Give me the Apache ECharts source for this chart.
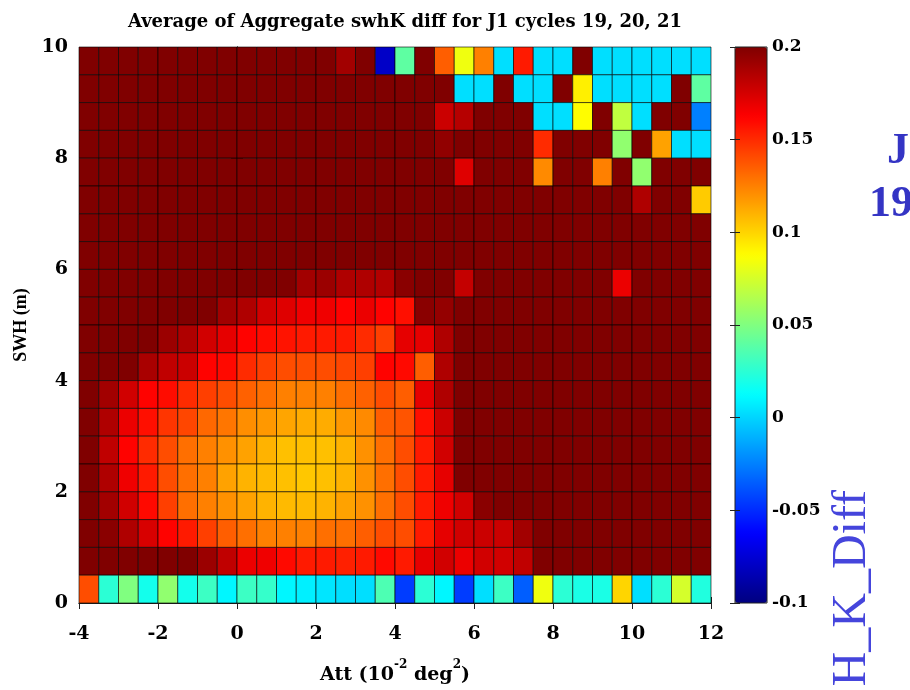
<!DOCTYPE html>
<html>
<head>
<meta charset="utf-8">
<title>Average of Aggregate swhK diff</title>
<script src="https://cdn.jsdelivr.net/npm/echarts@6/dist/echarts.min.js"></script>
<style>
  html, body { margin: 0; padding: 0; background: #fff; }
  #chart { width: 910px; height: 690px; }
</style>
</head>
<body>
<div id="chart"></div>
<script>
  // left edge of each Att bin (10^-2 deg^2), bin width 0.5
  const attBins = [-4, -3.5, -3, -2.5, -2, -1.5, -1, -0.5, 0, 0.5, 1, 1.5, 2, 2.5, 3, 3.5,
    4, 4.5, 5, 5.5, 6, 6.5, 7, 7.5, 8, 8.5, 9, 9.5, 10, 10.5, 11, 11.5];
  // lower edge of each SWH bin (m), bin height 0.5 ; listed top row first
  const swhBins = [9.5, 9, 8.5, 8, 7.5, 7, 6.5, 6, 5.5, 5, 4.5, 4, 3.5, 3, 2.5, 2, 1.5, 1, 0.5, 0];
  const binW = 0.5;
  const binH = 0.5;

  // mean swhK diff per cell, rows match swhBins (top -> bottom), 0.2 = saturated
  const swhKDiff = [
    [0.2, 0.2, 0.2, 0.2, 0.2, 0.2, 0.2, 0.2, 0.2, 0.2, 0.2, 0.2, 0.2, 0.19, 0.2, -0.079, 0.04, 0.2, 0.135, 0.083, 0.125, 0.003, 0.155, 0.003, 0.003, 0.2, 0.003, 0.003, 0.003, 0.003, 0.003, 0.003],
    [0.2, 0.2, 0.2, 0.2, 0.2, 0.2, 0.2, 0.2, 0.2, 0.2, 0.2, 0.2, 0.2, 0.2, 0.2, 0.2, 0.2, 0.2, 0.2, 0.003, 0.003, 0.2, 0.003, 0.003, 0.2, 0.092, 0.003, 0.003, 0.003, 0.003, 0.2, 0.04],
    [0.2, 0.2, 0.2, 0.2, 0.2, 0.2, 0.2, 0.2, 0.2, 0.2, 0.2, 0.2, 0.2, 0.2, 0.2, 0.2, 0.2, 0.2, 0.178, 0.184, 0.2, 0.2, 0.2, 0.003, 0.003, 0.088, 0.2, 0.069, 0.003, 0.2, 0.2, -0.025],
    [0.2, 0.2, 0.2, 0.2, 0.2, 0.2, 0.2, 0.2, 0.2, 0.2, 0.2, 0.2, 0.2, 0.2, 0.2, 0.2, 0.2, 0.2, 0.195, 0.2, 0.2, 0.2, 0.2, 0.15, 0.2, 0.2, 0.2, 0.055, 0.2, 0.115, 0.003, 0.003],
    [0.2, 0.2, 0.2, 0.2, 0.2, 0.2, 0.2, 0.2, 0.2, 0.2, 0.2, 0.2, 0.2, 0.2, 0.2, 0.2, 0.2, 0.2, 0.2, 0.172, 0.2, 0.2, 0.2, 0.122, 0.2, 0.2, 0.125, 0.2, 0.055, 0.2, 0.2, 0.2],
    [0.2, 0.2, 0.2, 0.2, 0.2, 0.2, 0.2, 0.2, 0.2, 0.2, 0.2, 0.2, 0.2, 0.2, 0.2, 0.2, 0.2, 0.2, 0.2, 0.2, 0.2, 0.2, 0.2, 0.2, 0.2, 0.2, 0.2, 0.2, 0.186, 0.2, 0.2, 0.103],
    [0.2, 0.2, 0.2, 0.2, 0.2, 0.2, 0.2, 0.2, 0.2, 0.2, 0.2, 0.2, 0.2, 0.2, 0.2, 0.2, 0.2, 0.2, 0.2, 0.2, 0.2, 0.2, 0.2, 0.2, 0.2, 0.2, 0.2, 0.2, 0.2, 0.2, 0.2, 0.2],
    [0.2, 0.2, 0.2, 0.2, 0.2, 0.2, 0.2, 0.2, 0.2, 0.2, 0.2, 0.2, 0.2, 0.2, 0.2, 0.2, 0.2, 0.2, 0.2, 0.2, 0.2, 0.2, 0.2, 0.2, 0.2, 0.2, 0.2, 0.2, 0.2, 0.2, 0.2, 0.2],
    [0.2, 0.2, 0.2, 0.2, 0.2, 0.2, 0.2, 0.2, 0.2, 0.2, 0.2, 0.19, 0.192, 0.186, 0.186, 0.185, 0.197, 0.2, 0.2, 0.18, 0.2, 0.2, 0.2, 0.2, 0.2, 0.2, 0.2, 0.168, 0.2, 0.2, 0.2, 0.2],
    [0.2, 0.2, 0.2, 0.2, 0.2, 0.2, 0.2, 0.19, 0.186, 0.176, 0.172, 0.167, 0.167, 0.162, 0.168, 0.162, 0.158, 0.197, 0.194, 0.2, 0.2, 0.2, 0.2, 0.2, 0.2, 0.2, 0.2, 0.2, 0.2, 0.2, 0.2, 0.2],
    [0.2, 0.2, 0.2, 0.2, 0.192, 0.186, 0.176, 0.17, 0.162, 0.159, 0.157, 0.155, 0.155, 0.155, 0.15, 0.144, 0.17, 0.17, 0.186, 0.2, 0.2, 0.2, 0.2, 0.2, 0.2, 0.2, 0.2, 0.2, 0.2, 0.2, 0.2, 0.2],
    [0.2, 0.2, 0.2, 0.188, 0.181, 0.178, 0.162, 0.16, 0.15, 0.144, 0.14, 0.14, 0.14, 0.142, 0.144, 0.162, 0.16, 0.135, 0.186, 0.2, 0.2, 0.2, 0.2, 0.2, 0.2, 0.2, 0.2, 0.2, 0.2, 0.2, 0.2, 0.2],
    [0.2, 0.19, 0.176, 0.162, 0.159, 0.15, 0.144, 0.14, 0.134, 0.13, 0.125, 0.125, 0.125, 0.13, 0.134, 0.14, 0.135, 0.17, 0.186, 0.2, 0.2, 0.2, 0.2, 0.2, 0.2, 0.2, 0.2, 0.2, 0.2, 0.2, 0.2, 0.2],
    [0.2, 0.186, 0.168, 0.158, 0.147, 0.142, 0.132, 0.128, 0.121, 0.118, 0.114, 0.112, 0.112, 0.118, 0.122, 0.135, 0.138, 0.158, 0.178, 0.2, 0.2, 0.2, 0.2, 0.2, 0.2, 0.2, 0.2, 0.2, 0.2, 0.2, 0.2, 0.2],
    [0.2, 0.181, 0.162, 0.15, 0.14, 0.13, 0.125, 0.12, 0.115, 0.11, 0.106, 0.106, 0.106, 0.11, 0.12, 0.13, 0.14, 0.155, 0.176, 0.2, 0.2, 0.2, 0.2, 0.2, 0.2, 0.2, 0.2, 0.2, 0.2, 0.2, 0.2, 0.2],
    [0.2, 0.186, 0.167, 0.155, 0.14, 0.13, 0.125, 0.115, 0.11, 0.108, 0.106, 0.104, 0.106, 0.11, 0.12, 0.13, 0.14, 0.155, 0.17, 0.2, 0.2, 0.2, 0.2, 0.2, 0.2, 0.2, 0.2, 0.2, 0.2, 0.2, 0.2, 0.2],
    [0.2, 0.19, 0.176, 0.16, 0.144, 0.13, 0.125, 0.12, 0.115, 0.11, 0.108, 0.108, 0.11, 0.115, 0.12, 0.13, 0.14, 0.155, 0.167, 0.176, 0.197, 0.2, 0.2, 0.2, 0.2, 0.2, 0.2, 0.2, 0.2, 0.2, 0.2, 0.2],
    [0.2, 0.197, 0.186, 0.174, 0.162, 0.155, 0.144, 0.135, 0.13, 0.125, 0.125, 0.125, 0.13, 0.13, 0.135, 0.14, 0.14, 0.155, 0.17, 0.176, 0.178, 0.178, 0.19, 0.2, 0.2, 0.2, 0.2, 0.2, 0.2, 0.2, 0.2, 0.2],
    [0.2, 0.2, 0.2, 0.2, 0.2, 0.2, 0.192, 0.181, 0.168, 0.167, 0.16, 0.155, 0.155, 0.153, 0.155, 0.16, 0.155, 0.17, 0.176, 0.168, 0.176, 0.176, 0.181, 0.2, 0.2, 0.2, 0.2, 0.2, 0.2, 0.2, 0.2, 0.2],
    [0.14, 0.025, 0.05, 0.018, 0.055, 0.018, 0.03, 0.01, 0.03, 0.028, 0.01, 0.008, 0.005, 0.003, 0.003, 0.035, -0.045, 0.025, 0.01, -0.045, 0.003, 0.03, -0.035, 0.083, 0.025, 0.02, 0.02, 0.1, 0.003, 0.025, 0.075, 0.022]
  ];

  const xTicks = [-4, -2, 0, 2, 4, 6, 8, 10, 12];
  const yTicks = [0, 2, 4, 6, 8, 10];
  const cbarTicks = [-0.1, -0.05, 0, 0.05, 0.1, 0.15, 0.2];

  // matlab jet, 9 evenly spaced stops
  const jet = ['#000080', '#0000ff', '#0080ff', '#00ffff', '#80ff80', '#ffff00', '#ff8000', '#ff0000', '#800000'];

  const cells = [];
  swhBins.forEach((y, r) => {
    attBins.forEach((x, c) => {
      cells.push([x, y, swhKDiff[r][c]]);
    });
  });

  const serif = '"Liberation Serif", "Times New Roman", serif';
  const wideSerif = '"DejaVu Serif", serif'; // the slide is stretched sideways, wider face fits better
  const tickFont = { fontFamily: wideSerif, fontWeight: 'bold', fontSize: 19, color: '#000' };
  const frameLine = { lineStyle: { color: '#222', width: 1 } };
  const inTick = { inside: true, length: 6, lineStyle: { color: '#222', width: 1 } };

  const chart = echarts.init(document.getElementById('chart'));

  const option = {
    backgroundColor: '#fff',
    animation: false,
    title: {
      text: 'Average of Aggregate swhK diff for J1 cycles 19, 20, 21',
      left: 400,
      top: 8,
      textAlign: 'center',
      textStyle: { fontFamily: wideSerif, fontWeight: 'bold', fontSize: 18, color: '#000' }
    },
    grid: [
      { left: 79, top: 47, width: 632, height: 556 },
      { left: 735, top: 47, width: 32, height: 556, show: true, z: 6,
        backgroundColor: 'transparent', borderColor: '#222', borderWidth: 1 }
    ],
    xAxis: [
      {
        gridIndex: 0, type: 'value', position: 'bottom',
        min: xTicks[0], max: xTicks[xTicks.length - 1], interval: 2,
        axisLine: frameLine, axisTick: inTick, splitLine: { show: false },
        axisLabel: Object.assign({ margin: 22 }, tickFont),
        name: '{b|Att (10}{s|-2}{b| deg}{s|2}{b|)}',
        nameLocation: 'middle', nameGap: 56,
        nameTextStyle: {
          rich: {
            b: { fontFamily: wideSerif, fontWeight: 'bold', fontSize: 19, color: '#000', lineHeight: 26, verticalAlign: 'bottom' },
            s: { fontFamily: wideSerif, fontWeight: 'bold', fontSize: 12, color: '#000', lineHeight: 26, verticalAlign: 'top' }
          }
        }
      },
      {
        gridIndex: 0, type: 'value', position: 'top',
        min: xTicks[0], max: xTicks[xTicks.length - 1], interval: 2,
        axisLine: frameLine, axisTick: inTick, splitLine: { show: false },
        axisLabel: { show: false }
      },
      { gridIndex: 1, type: 'value', min: 0, max: 1, show: false }
    ],
    yAxis: [
      {
        gridIndex: 0, type: 'value', position: 'left',
        min: yTicks[0], max: yTicks[yTicks.length - 1], interval: 2,
        axisLine: frameLine, axisTick: inTick, splitLine: { show: false },
        axisLabel: Object.assign({ margin: 11 }, tickFont),
        name: 'SWH (m)', nameLocation: 'middle', nameGap: 48, nameRotate: 90,
        nameTextStyle: { fontFamily: serif, fontWeight: 'bold', fontSize: 18, color: '#000' }
      },
      {
        gridIndex: 0, type: 'value', position: 'right',
        min: yTicks[0], max: yTicks[yTicks.length - 1], interval: 2,
        axisLine: frameLine, axisTick: inTick, splitLine: { show: false },
        axisLabel: { show: false }
      },
      {
        gridIndex: 1, type: 'value', position: 'right', z: 7,
        min: cbarTicks[0], max: cbarTicks[cbarTicks.length - 1], interval: 0.05,
        axisLine: { show: false }, axisTick: { inside: true, length: 5, lineStyle: { color: '#222' } },
        splitLine: { show: false },
        axisLabel: Object.assign({}, tickFont, { fontSize: 17, margin: 5, formatter: v => String(+v.toFixed(2)) })
      },
      {
        gridIndex: 1, type: 'value', position: 'left', z: 7,
        min: cbarTicks[0], max: cbarTicks[cbarTicks.length - 1], interval: 0.05,
        axisLine: { show: false }, axisTick: { inside: true, length: 5, lineStyle: { color: '#222' } },
        splitLine: { show: false }, axisLabel: { show: false }
      }
    ],
    visualMap: {
      type: 'continuous',
      min: cbarTicks[0],
      max: cbarTicks[cbarTicks.length - 1],
      dimension: 2,
      seriesIndex: 0,
      calculable: false,
      hoverLink: false,
      orient: 'vertical',
      left: 735,
      top: 47,
      itemWidth: 32,
      itemHeight: 556,
      padding: 0,
      inRange: { color: jet }
    },
    graphic: [
      { type: 'text', x: 887, y: 152, style: { text: 'J', font: 'bold 44px "Liberation Serif"', fill: '#3434c4', align: 'left', verticalAlign: 'middle' } },
      { type: 'text', x: 869, y: 205, style: { text: '19', font: 'bold 44px "Liberation Serif"', fill: '#3434c4', align: 'left', verticalAlign: 'middle' } },
      { type: 'text', x: 852, y: 490, rotation: Math.PI / 2,
        style: { text: 'H_K_Diff', font: '48px "Liberation Serif"', fill: '#4545dc', align: 'right', verticalAlign: 'middle' } }
    ],
    series: [
      {
        type: 'custom',
        xAxisIndex: 0,
        yAxisIndex: 0,
        encode: { x: 0, y: 1 },
        data: cells,
        renderItem: function (params, api) {
          const x0 = api.value(0);
          const y0 = api.value(1);
          const p0 = api.coord([x0, y0 + binH]);
          const p1 = api.coord([x0 + binW, y0]);
          return {
            type: 'rect',
            shape: { x: p0[0], y: p0[1], width: p1[0] - p0[0], height: p1[1] - p0[1] },
            style: { fill: api.visual('color'), stroke: 'rgba(0,0,0,0.6)', lineWidth: 1 }
          };
        }
      }
    ]
  };

  chart.setOption(option);
</script>
</body>
</html>
